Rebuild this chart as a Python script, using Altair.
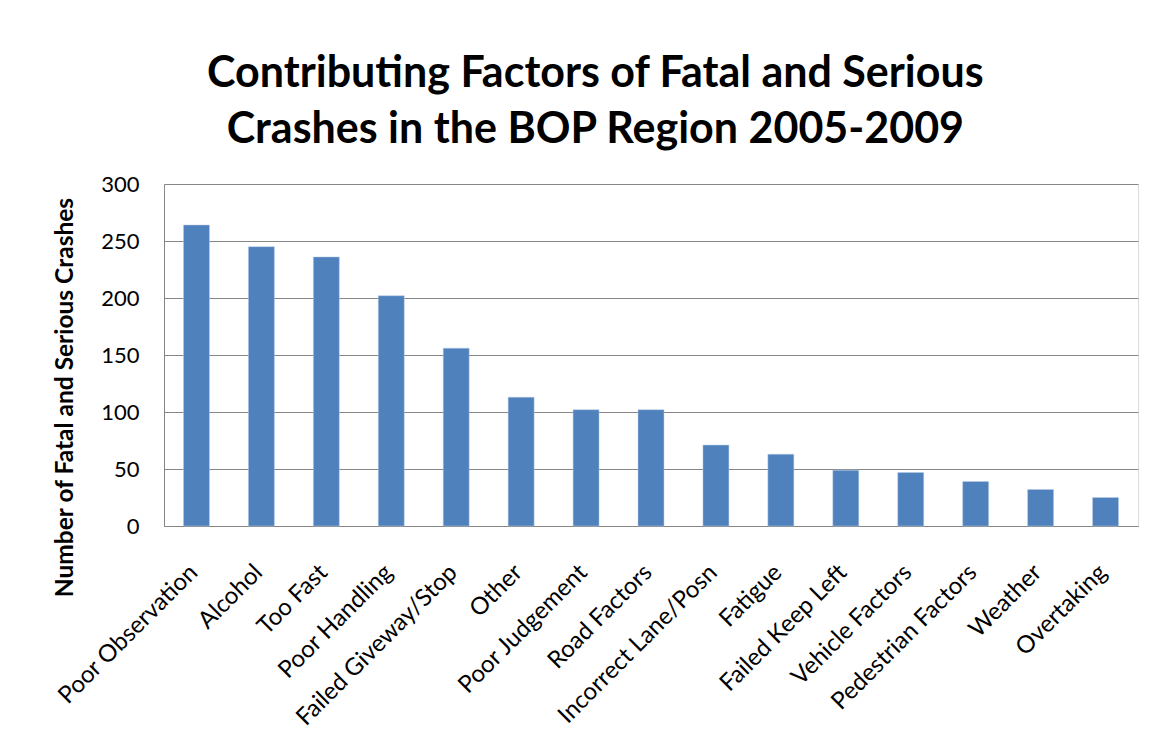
import altair as alt
import pandas as pd

factors = ["Poor Observation", "Alcohol", "Too Fast", "Poor Handling", "Failed Giveway/Stop",
           "Other", "Poor Judgement", "Road Factors", "Incorrect Lane/Posn", "Fatigue",
           "Failed Keep Left", "Vehicle Factors", "Pedestrian Factors", "Weather", "Overtaking"]
counts = [264, 245, 236, 202, 156, 113, 102, 102, 71, 63, 49, 47, 39, 32, 25]
y_ticks = [0, 50, 100, 150, 200, 250, 300]

df = pd.DataFrame({"factor": factors, "count": counts})

FONT = "Lato"

chart = alt.Chart(df).mark_bar(color="#4F81BD", stroke="#B9CDE5", strokeWidth=0.5).encode(
    x=alt.X("factor:N", sort=factors,
            scale=alt.Scale(paddingInner=0.6, paddingOuter=0.3),
            axis=alt.Axis(title=None, labelAngle=-45, labelFontSize=24, labelFont=FONT,
                          labelColor="#000000", ticks=False, domainColor="#868686",
                          labelPadding=34, labelOffset=-11, labelLimit=400, grid=False)),
    y=alt.Y("count:Q", scale=alt.Scale(domain=[0, 300], nice=False),
            axis=alt.Axis(title="Number of Fatal and Serious Crashes", values=y_ticks,
                          titleFontSize=24.5, titleFont=FONT, titleFontWeight="bold",
                          titleColor="#000000", titlePadding=23, titleY=213,
                          labelFontSize=22, labelFont=FONT, labelColor="#000000",
                          labelPadding=25, ticks=False, domainColor="#868686",
                          gridColor="#868686", gridWidth=1)),
).properties(
    width=974,
    height=342,
    padding={"left": 44, "top": 45, "right": 5, "bottom": 5},
    title=alt.TitleParams(["Contributing Factors of Fatal and Serious",
                           "Crashes in the BOP Region 2005-2009"],
                          fontSize=43, font=FONT, fontWeight="bold", color="#000000",
                          lineHeight=56, anchor="middle", frame="bounds", offset=21),
).configure_view(stroke=None).configure(background="white")

chart.save("out.html", embed_options={"renderer": "svg", "actions": False})
